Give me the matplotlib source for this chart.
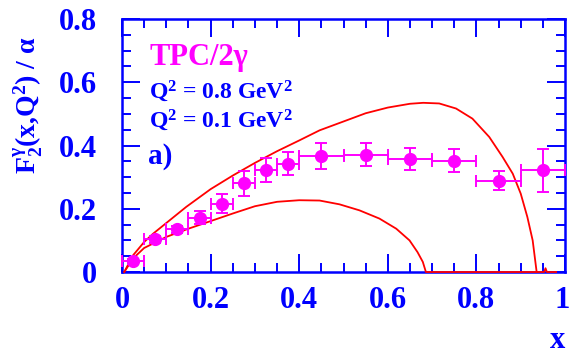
import matplotlib
matplotlib.use('Agg')
import matplotlib.pyplot as plt
import matplotlib.transforms as mtransforms
from matplotlib.ticker import MultipleLocator

# measured points TPC/2gamma
x_pts = [0.025, 0.075, 0.125, 0.175, 0.225, 0.275, 0.325, 0.375,
         0.45, 0.55, 0.65, 0.75, 0.85, 0.95]
x_err = [0.025, 0.025, 0.025, 0.025, 0.025, 0.025, 0.025, 0.025,
         0.05, 0.05, 0.05, 0.05, 0.05, 0.05]
f2_pts = [0.034, 0.103, 0.135, 0.172, 0.216, 0.28, 0.322, 0.343,
          0.368, 0.371, 0.356, 0.352, 0.289, 0.321]
f2_err = [0.008, 0.012, 0.012, 0.021, 0.03, 0.04, 0.037, 0.035,
          0.041, 0.037, 0.035, 0.036, 0.031, 0.068]

x_hi = [0.005, 0.025, 0.05, 0.07, 0.1, 0.145, 0.2, 0.25, 0.3, 0.35, 0.4, 0.446,
        0.5, 0.55, 0.6, 0.65, 0.68, 0.716, 0.754, 0.791, 0.829, 0.859, 0.882,
        0.9, 0.915, 0.927, 0.936, 0.953, 0.956, 0.959, 0.98]
f2_hi = [0.0, 0.053, 0.095, 0.121, 0.155, 0.206, 0.262, 0.305, 0.345, 0.382, 0.416, 0.448,
         0.476, 0.502, 0.52, 0.532, 0.535, 0.533, 0.517, 0.485, 0.427, 0.364, 0.311,
         0.248, 0.174, 0.1, 0.0, 0.0, 0.012, 0.0, 0.0]

x_lo = [0.005, 0.025, 0.05, 0.1, 0.15, 0.2, 0.25, 0.3, 0.35, 0.4, 0.446, 0.491,
        0.536, 0.581, 0.619, 0.649, 0.667, 0.679, 0.686, 0.936]
f2_lo = [0.0, 0.043, 0.076, 0.111, 0.137, 0.161, 0.185, 0.208, 0.222, 0.227, 0.226, 0.214,
         0.195, 0.169, 0.137, 0.1, 0.063, 0.032, 0.0, 0.0]

x_ticks = [0, 0.2, 0.4, 0.6, 0.8, 1]
x_labels = ['0', '0.2', '0.4', '0.6', '0.8', '1']
y_ticks = [0, 0.2, 0.4, 0.6, 0.8]
y_labels = ['0', '0.2', '0.4', '0.6', '0.8']

blue = '#0000ff'
mag = '#ff00ff'
red = '#ff0000'

plt.rcParams['font.family'] = ['Liberation Serif', 'DejaVu Serif']
plt.rcParams['font.weight'] = 'bold'
plt.rcParams['mathtext.fontset'] = 'custom'
plt.rcParams['mathtext.rm'] = 'Liberation Serif:bold'
plt.rcParams['mathtext.it'] = 'Liberation Serif:bold'
plt.rcParams['mathtext.bf'] = 'Liberation Serif:bold'

fig = plt.figure(figsize=(5.71, 3.54), dpi=100)
ax = fig.add_axes([0.2137, 0.2316, 0.7758, 0.7147])

ax.plot(x_hi, f2_hi, color=red, lw=1.3, zorder=4, clip_on=False)
ax.plot(x_lo, f2_lo, color=red, lw=1.3, zorder=4, clip_on=False)
ax.errorbar(x_pts, f2_pts, xerr=x_err, yerr=f2_err, fmt='o', color=mag,
            ms=8.5, elinewidth=1.4, capsize=4.5, capthick=1.4, zorder=5,
            clip_on=False)

ax.set_xlim(0, 1)
ax.set_ylim(0, 0.8)
ax.set_xticks(x_ticks)
ax.set_xticklabels(x_labels)
ax.set_yticks(y_ticks)
ax.set_yticklabels(y_labels)
ax.xaxis.set_minor_locator(MultipleLocator(0.05))
ax.yaxis.set_minor_locator(MultipleLocator(0.05))
ax.tick_params(which='both', direction='in', top=True, right=True,
               color=blue, width=1.4)
ax.tick_params(which='major', length=13)
ax.tick_params(which='minor', length=6.5)
ax.tick_params(axis='x', which='major', pad=10, labelsize=22, labelcolor=blue)
ax.tick_params(axis='y', which='major', pad=18, labelsize=22, labelcolor=blue)
for s in ax.spines.values():
    s.set_color(blue)
    s.set_linewidth(1.8)

# keep the "1" inside the picture
last = ax.get_xticklabels()[-1]
last.set_transform(last.get_transform() +
                   mtransforms.ScaledTranslation(-3 / 100, 0, fig.dpi_scale_trans))

fig.text(28 / 571, 1 - 105 / 354, r'F$_2^{\gamma}$(x,Q$^2$) / α', rotation=90,
         ha='center', va='center', color=blue, fontsize=20, fontweight='bold')
fig.text(557 / 571, 1 - 340 / 354, 'x', ha='center', va='center', color=blue,
         fontsize=22, fontweight='bold')

ax.text(0.063, 0.82, 'TPC/2γ', transform=ax.transAxes, color=mag,
        fontsize=22, fontweight='bold', va='baseline')
ax.text(0.06, 0.685, 'Q$^2$ = 0.8 GeV$^2$', transform=ax.transAxes, color=blue,
        fontsize=17, fontweight='bold', va='baseline')
ax.text(0.06, 0.57, 'Q$^2$ = 0.1 GeV$^2$', transform=ax.transAxes, color=blue,
        fontsize=17, fontweight='bold', va='baseline')
ax.text(0.058, 0.43, 'a)', transform=ax.transAxes, color=blue,
        fontsize=21, fontweight='bold', va='baseline')

fig.savefig('out.png', dpi=100)
